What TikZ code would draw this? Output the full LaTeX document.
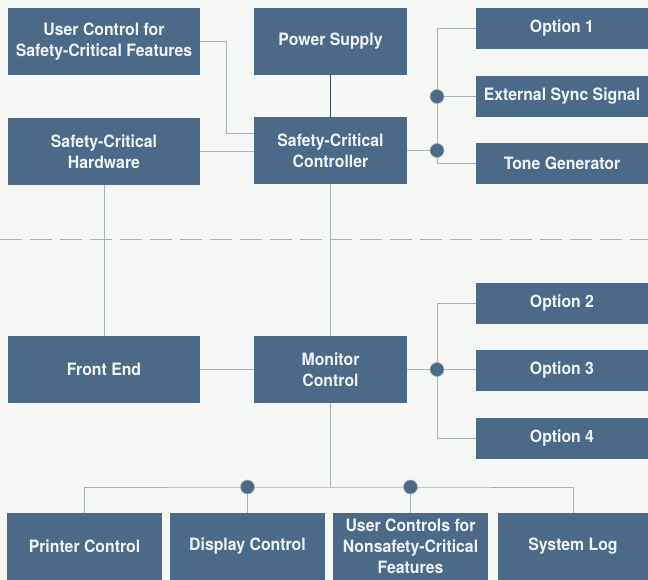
\documentclass[tikz,border=0pt]{standalone}
\usepackage{fontspec}
\setmainfont{TeX Gyre Heros}[FakeStretch=0.93]
\definecolor{boxblue}{RGB}{76,106,136}
\definecolor{boxtext}{RGB}{240,243,245}
\definecolor{wiregray}{RGB}{170,176,180}
\definecolor{paper}{RGB}{245,247,245}
\begin{document}
\begin{tikzpicture}[x=1pt,y=-1pt]
        \tikzstyle{block}=[rectangle,fill=boxblue,text=boxtext,align=center,inner sep=0pt,font=\fontsize{17}{21}\selectfont\bfseries]
        \tikzstyle{bigbox}=[block,minimum width=192pt,minimum height=67pt]
        \tikzstyle{ctrlbox}=[block,minimum width=153pt,minimum height=67pt]
        \tikzstyle{optbox}=[block,minimum width=172pt,minimum height=41pt]
        \tikzstyle{lowbox}=[block,minimum width=155pt,minimum height=67pt]
        \tikzstyle{wire}=[draw=wiregray,line width=0.9pt]
        \tikzstyle{junction}=[circle,fill=boxblue,draw=wiregray,line width=0.6pt,minimum size=14pt,inner sep=0pt]
        \fill[paper] (0,0) rectangle (648,580);
        \useasboundingbox (0,0) rectangle (648,580);
       \begin{scope}
         \node [bigbox] (ucs) at (104,41.5) {User Control for\\Safety-Critical Features};
         \node [ctrlbox] (psu) at (330.5,41.5) {Power Supply};
         \node [optbox] (opt1) at (562,28.5) {Option 1};
         \node [optbox] (sync) at (562,96.5) {External Sync Signal};
         \node [optbox] (tone) at (562,163.5) {Tone Generator};
         \node [bigbox] (sch) at (104,151.5) {Safety-Critical\\Hardware};
         \node [ctrlbox] (scc) at (330.5,150.5) {Safety-Critical\\Controller};
         \node [bigbox] (fe) at (104,369.5) {Front End};
         \node [ctrlbox] (mon) at (330.5,369.5) {Monitor\\Control};
         \node [optbox] (opt2) at (562,303) {Option 2};
         \node [optbox] (opt3) at (562,370) {Option 3};
         \node [optbox] (opt4) at (562,438.5) {Option 4};
         \node [lowbox] (prn) at (84.5,546.5) {Printer Control};
         \node [lowbox] (dsp) at (247.5,546.5) {Display Control};
         \node [lowbox] (ucn) at (410.5,546.5) {User Controls for\\Nonsafety-Critical\\Features};
         \node [lowbox,minimum width=150pt] (log) at (573,546.5) {System Log};
         \coordinate (bend) at (226,133);
         \coordinate (split) at (0,487);
        \end{scope}
        \draw[dashed,draw=wiregray,line width=0.8pt,dash pattern=on 22pt off 8pt] (0,239) -- (648,239);
        \path[wire] (ucs.east) -| (bend) -- (bend -| scc.west);
        \path[wire] (sch.east) -- (sch.east -| scc.west);
        \path[draw=boxblue!70!black,line width=1.4pt] (psu) -- (scc);
        \path[wire] (opt1.west) -| (tone.west -| 437,0) -- (tone.west);
        \path[wire] (sch) -- (fe);
        \path[wire] (scc) -- (mon);
        \path[wire] (fe) -- (mon);
        \path[wire] (opt2.west) -| (opt4.west -| 437,0) -- (opt4.west);
        \path[wire] (mon.east) -- (mon.east -| opt3.west);
        \path[wire] (prn.north) |- (split -| dsp.north) -- (split -| ucn.north) -| (log.north);
        \path[wire] (mon.south) -- (mon.south |- split);
        \path[wire] (split -| dsp.north) -- (dsp.north);
        \path[wire] (split -| ucn.north) -- (ucn.north);
        \node [junction] (b1) at (sync.west -| 437,0) {};
        \node [junction] (b2) at (scc.east -| 437,0) {};
        \node [junction] (b3) at (mon.east -| 437,0) {};
        \node [junction] (b4) at (split -| dsp.north) {};
        \node [junction] (b5) at (split -| ucn.north) {};
        \path[wire] (b1) -- (sync.west);
        \path[wire] (scc.east) -- (b2);
      \end{tikzpicture}
\end{document}
